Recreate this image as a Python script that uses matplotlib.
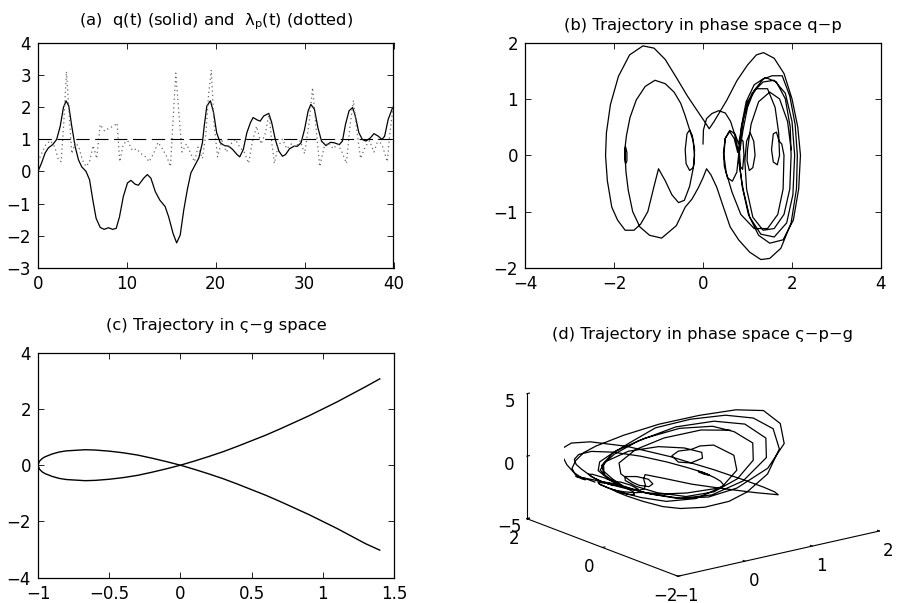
import matplotlib
matplotlib.use('Agg')
import matplotlib.pyplot as plt
import numpy as np

plt.rcParams['font.family'] = ['DejaVu Sans']
plt.rcParams['axes.unicode_minus'] = True

# ---------------- data ----------------
# (a) q(t) solid
t_q = [0, 0.4, 0.8, 1.17, 1.65, 2.1, 2.5, 2.86, 3.16, 3.46, 3.8, 4.17, 4.55, 4.92, 5.4,
       5.8, 6.17, 6.54, 7.0, 7.44, 7.93, 8.4, 8.8, 9.17, 9.6, 10.07, 10.45, 10.94, 11.3,
       11.9, 12.3, 12.7, 13.2, 13.7, 14.3, 14.7, 15.2, 15.6, 16.0, 16.4, 16.8, 17.2, 17.7,
       18.1, 18.5, 18.7, 19.0, 19.4, 19.76, 20.1, 20.5, 20.97, 21.46, 21.9, 22.4, 22.7,
       23.1, 23.5, 23.9, 24.2, 24.7, 25.0, 25.4, 25.97, 26.3, 26.7, 27.1, 27.5, 27.85,
       28.3, 28.8, 29.2, 29.6, 29.99, 30.4, 30.7, 31.1, 31.5, 31.9, 32.4, 32.9, 33.3,
       33.9, 34.25, 34.6, 35.0, 35.4, 35.7, 36.1, 36.5, 36.9, 37.4, 37.8, 38.3, 38.7,
       39.0, 39.4, 39.9, 40.0]
q_t = [0, 0.26, 0.57, 0.73, 0.83, 0.99, 1.4, 1.98, 2.19, 2.03, 1.4, 0.78, 0.36, 0.14, 0.0,
       -0.26, -0.89, -1.46, -1.74, -1.80, -1.75, -1.80, -1.77, -1.41, -0.78, -0.36, -0.28,
       -0.40, -0.43, -0.21, -0.10, -0.21, -0.63, -0.89, -1.09, -1.41, -1.93, -2.22, -1.98,
       -1.2, -0.57, -0.05, 0.21, 0.42, 0.89, 1.4, 2.03, 2.19, 1.82, 1.2, 0.89, 0.8, 0.78,
       0.68, 0.52, 0.45, 0.68, 1.2, 1.51, 1.67, 1.59, 1.56, 1.72, 1.8, 1.51, 0.99, 0.63,
       0.47, 0.52, 0.7, 0.78, 0.78, 0.89, 1.3, 1.88, 2.08, 1.93, 1.35, 0.94, 0.8, 0.9,
       0.89, 0.83, 0.94, 1.46, 1.88, 1.98, 1.72, 1.2, 0.99, 0.94, 1.04, 1.17, 1.09, 0.99,
       1.09, 1.61, 1.98, 2.0]

# (a) lambda_p(t) dotted
t_lam = [0.0, 0.4, 0.9, 1.4, 1.9, 2.3, 2.6, 2.9, 3.2, 3.5, 3.8, 4.2, 4.6, 5.0, 5.4, 5.8,
         6.2, 6.6, 7.0, 7.5, 8.0, 8.5, 8.9, 9.2, 9.6, 10.1, 10.6, 11.1, 11.6, 12.1, 12.5,
         13.0, 13.5, 14.0, 14.5, 14.9, 15.2, 15.5, 15.8, 16.2, 16.7, 17.2, 17.6, 18.0,
         18.5, 18.9, 19.2, 19.5, 19.8, 20.2, 20.7, 21.2, 21.7, 22.2, 22.7, 23.2, 23.7,
         24.1, 24.6, 25.1, 25.6, 26.0, 26.3, 26.6, 27.0, 27.5, 28.0, 28.5, 29.0, 29.5,
         30.0, 30.5, 30.9, 31.3, 31.7, 32.2, 32.7, 33.2, 33.7, 34.2, 34.7, 35.1, 35.5,
         35.9, 36.3, 36.8, 37.3, 37.8, 38.3, 38.8, 39.3, 39.6, 40.0]
lam_p = [0.3, 0.55, 0.85, 0.95, 0.75, 0.35, 0.3, 1.5, 3.1, 1.8, 0.55, 0.9, 0.75, 0.35, 0.15,
         0.3, 0.8, 0.4, 1.45, 1.25, 1.35, 1.4, 1.5, 0.3, 0.85, 0.95, 0.65, 0.7, 0.55, 0.45,
         0.3, 0.55, 0.9, 0.7, 0.45, 0.15, 1.6, 3.05, 2.0, 0.6, 0.85, 0.55, 0.3, 0.75, 0.4,
         1.2, 2.4, 3.15, 1.5, 0.45, 0.95, 0.6, 0.85, 1.0, 0.75, 0.6, 0.25, 0.9, 1.4, 0.85,
         1.2, 1.8, 0.9, 0.25, 0.75, 1.0, 0.7, 0.85, 0.75, 0.95, 0.55, 1.5, 2.6, 1.3, 0.15,
         0.75, 0.9, 0.7, 0.85, 0.6, 0.25, 1.4, 2.2, 1.2, 0.4, 0.75, 0.95, 0.6, 1.0, 0.75,
         0.3, 1.2, 2.1]
dash_level = 1.0

# (b) trajectory in phase space, (q, p) pairs
phase_qp = [
    (0.00, 0.20), (0.01, 0.45), (0.08, 0.65), (0.20, 0.74), (0.35, 0.79), (0.50, 0.75),
    (0.62, 0.60), (0.70, 0.40), (0.76, 0.20), (0.80, 0.05), (0.83, 0.10), (0.90, 0.45),
    (1.00, 0.85), (1.15, 1.15), (1.35, 1.35), (1.55, 1.41), (1.78, 1.41), (1.95, 1.05),
    (2.07, 0.55), (2.12, 0.00),
    (2.10, -0.60), (1.98, -1.20), (1.75, -1.65), (1.50, -1.83), (1.30, -1.85), (1.05, -1.72),
    (0.80, -1.50), (0.61, -1.27), (0.45, -0.90), (0.31, -0.57), (0.18, -0.35), (0.08, -0.24),
    (0.00, -0.40), (-0.10, -0.57), (-0.25, -0.78), (-0.40, -0.92),
    (-0.60, -1.25), (-0.93, -1.47), (-1.20, -1.42), (-1.42, -1.27), (-1.58, -1.00),
    (-1.68, -0.62), (-1.73, -0.30), (-1.75, -0.05),
    (-1.76, 0.10), (-1.74, 0.15), (-1.71, 0.05), (-1.71, -0.10), (-1.74, -0.15),
    (-1.76, -0.05), (-1.75, 0.15),
    (-1.72, 0.35), (-1.64, 0.67), (-1.50, 0.98), (-1.30, 1.22), (-1.08, 1.33), (-0.85, 1.27),
    (-0.65, 1.12), (-0.50, 0.92), (-0.40, 0.70), (-0.30, 0.45),
    (-0.22, 0.25), (-0.19, 0.00), (-0.22, -0.22), (-0.30, -0.27), (-0.38, -0.15),
    (-0.40, 0.10), (-0.36, 0.38), (-0.30, 0.45), (-0.24, 0.35), (-0.19, 0.10), (-0.20, -0.15),
    (-0.30, -0.55), (-0.42, -0.80), (-0.55, -0.84), (-0.70, -0.70), (-0.85, -0.45),
    (-1.00, -0.24), (-1.10, -0.55), (-1.24, -1.00), (-1.40, -1.22), (-1.55, -1.33),
    (-1.75, -1.33), (-1.92, -1.15), (-2.05, -0.92), (-2.15, -0.45), (-2.19, 0.00),
    (-2.17, 0.40), (-2.08, 0.90), (-1.90, 1.40), (-1.65, 1.78), (-1.35, 1.94), (-1.10, 1.90),
    (-0.85, 1.70), (-0.60, 1.38), (-0.35, 1.05), (-0.12, 0.78), (0.05, 0.58), (0.14, 0.47),
    (0.25, 0.60), (0.40, 0.80), (0.53, 0.97), (0.76, 1.32), (1.00, 1.60), (1.20, 1.78),
    (1.36, 1.82), (1.60, 1.72), (1.82, 1.45), (2.00, 1.00), (2.13, 0.50), (2.19, 0.00),
    (2.15, -0.60), (2.03, -1.15), (1.80, -1.50), (1.50, -1.56), (1.25, -1.42), (1.02, -1.05),
    (0.88, -0.55), (0.82, -0.15), (0.80, 0.00),
    (0.76, -0.30), (0.66, -0.46), (0.55, -0.40), (0.48, -0.20), (0.46, 0.05), (0.50, 0.30),
    (0.60, 0.44), (0.72, 0.38), (0.80, 0.20),
    (0.88, 0.55), (1.00, 0.95), (1.20, 1.18), (1.45, 1.18), (1.62, 0.85), (1.70, 0.40),
    (1.72, 0.00), (1.67, -0.17), (1.58, -0.12), (1.54, 0.10), (1.58, 0.38), (1.65, 0.41),
    (1.71, 0.25), (1.77, 0.20), (1.82, 0.00),
    (1.80, -0.60), (1.68, -1.05), (1.45, -1.30), (1.15, -1.30), (0.85, -1.05), (0.65, -0.65),
    (0.52, -0.30), (0.47, 0.00),
    (0.50, 0.30), (0.60, 0.42), (0.70, 0.30), (0.78, 0.05), (0.82, 0.20), (0.92, 0.70),
    (1.10, 1.10), (1.35, 1.30), (1.60, 1.33), (1.85, 1.10), (2.00, 0.60), (2.06, 0.00),
    (2.02, -0.70), (1.88, -1.20), (1.60, -1.45), (1.30, -1.40), (1.05, -1.10), (0.90, -0.60),
    (0.82, -0.20), (0.80, 0.00),
    (0.84, 0.30), (0.90, 0.25), (0.92, 0.00), (0.89, -0.25), (0.84, -0.20), (0.82, 0.05),
    (0.86, 0.50), (0.97, 0.95), (1.15, 1.25), (1.40, 1.38), (1.65, 1.30), (1.85, 1.00),
    (1.96, 0.50), (1.98, 0.00),
    (1.95, -0.60), (1.82, -1.05), (1.60, -1.30), (1.35, -1.33), (1.12, -1.10), (0.98, -0.60),
    (0.94, -0.10),
    (0.98, 0.25), (1.06, 0.40), (1.14, 0.25), (1.17, 0.00), (1.12, -0.22), (1.04, -0.27),
    (0.99, -0.10), (1.00, 0.10),
    (1.08, 0.55), (1.25, 0.95), (1.50, 1.12), (1.72, 1.00), (1.90, 0.60), (1.98, 0.10),
]

# (c) trajectory in varsigma-g space (two branches)
sig_c = [-1.0, -0.99, -0.97, -0.95, -0.9, -0.85, -0.8, -0.67, -0.6, -0.5, -0.4, -0.3, -0.2,
         -0.1, 0.0, 0.1, 0.2, 0.3, 0.4, 0.5, 0.6, 0.7, 0.8, 0.9, 1.0, 1.1, 1.2, 1.3, 1.4]
g_c1 = [0, 0.14, 0.24, 0.30, 0.40, 0.47, 0.51, 0.55, 0.54, 0.50, 0.44, 0.36, 0.25, 0.13, 0,
        -0.15, -0.31, -0.48, -0.67, -0.87, -1.07, -1.29, -1.52, -1.75, -2.0, -2.25, -2.52,
        -2.79, -3.02]
g_c2 = [0, -0.14, -0.24, -0.30, -0.40, -0.47, -0.51, -0.55, -0.54, -0.50, -0.44, -0.36,
        -0.25, -0.13, 0, 0.15, 0.31, 0.48, 0.67, 0.87, 1.07, 1.29, 1.52, 1.75, 2.0, 2.25,
        2.52, 2.79, 3.07]

# ---------------- figure ----------------
W, H = 904, 603
fig = plt.figure(figsize=(W / 100, H / 100), dpi=100)

TICK_FS = 12
TITLE_FS = 11.8


def box(l, r, t, b):
    return [l / W, 1 - b / H, (r - l) / W, (b - t) / H]


def style(ax):
    ax.tick_params(direction='in', top=True, right=True, length=4, width=0.6,
                   labelsize=TICK_FS)
    ax.tick_params(axis='x', pad=5)
    ax.tick_params(axis='y', pad=5)
    for s in ax.spines.values():
        s.set_linewidth(0.9)


def mlab(vals):
    return [('%g' % v).replace('-', '\u2212') for v in vals]


# (a)
ax1 = fig.add_axes(box(38, 393.5, 42.5, 268))
ax1.plot(t_q, q_t, color='k', lw=0.9)
ax1.plot(t_lam, lam_p, color='0.4', lw=0.9, ls=(0, (1, 2.5)))
ax1.axhline(dash_level, color='k', lw=0.8, ls=(0, (12, 5)))
ax1.set_xlim(0, 40)
ax1.set_ylim(-3, 4)
ax1.set_xticks([0, 10, 20, 30, 40])
ax1.set_xticklabels(mlab([0, 10, 20, 30, 40]))
ax1.set_yticks(range(-3, 5))
ax1.set_yticklabels(mlab(range(-3, 5)))
style(ax1)
ax1.set_title('(a)  q(t) (solid) and  \u03bb$_\\mathregular{p}$(t) (dotted)',
              fontsize=TITLE_FS, pad=12.5)

# (b)
q_b, p_b = np.array(phase_qp).T
ax2 = fig.add_axes(box(525, 881, 42.5, 268))
ax2.plot(q_b, p_b, color='k', lw=0.9)
ax2.set_xlim(-4, 4)
ax2.set_ylim(-2, 2)
ax2.set_xticks([-4, -2, 0, 2, 4])
ax2.set_xticklabels(mlab([-4, -2, 0, 2, 4]))
ax2.set_yticks([-2, -1, 0, 1, 2])
ax2.set_yticklabels(mlab([-2, -1, 0, 1, 2]))
style(ax2)
ax2.set_title('(b) Trajectory in phase space q\u2212p', fontsize=TITLE_FS, pad=9)

# (c)
ax3 = fig.add_axes(box(38, 394, 352.7, 577.7))
ax3.plot(sig_c, g_c1, color='k', lw=1.0)
ax3.plot(sig_c, g_c2, color='k', lw=1.0)
ax3.set_xlim(-1, 1.5)
ax3.set_ylim(-4, 4)
xt = [-1, -0.5, 0, 0.5, 1, 1.5]
ax3.set_xticks(xt)
ax3.set_xticklabels(mlab(xt))
ax3.set_yticks([-4, -2, 0, 2, 4])
ax3.set_yticklabels(mlab([-4, -2, 0, 2, 4]))
style(ax3)
ax3.set_title('(c) Trajectory in \u03c2\u2212g space', fontsize=TITLE_FS, pad=16.5)

# (d) 3-D trajectory: varsigma and g follow from q of panel (b)
sig_d = q_b ** 2 / 2 - 1
g_d = sig_d * q_b
ax4 = fig.add_axes(box(502, 897, 331, 601), projection='3d')
ax4.set_proj_type('ortho')
ax4.view_init(elev=17, azim=-127.5)
ax4.set_box_aspect((1, 0.977, 0.515), zoom=1.36)
ax4.plot(sig_d, p_b, g_d, color='k', lw=0.9)
ax4.set_xlim(-1, 2)
ax4.set_ylim(-2, 2)
ax4.set_zlim(-5, 5)
ax4.set_xticks([-1, 0, 1, 2])
ax4.set_xticklabels(mlab([-1, 0, 1, 2]))
ax4.set_yticks([-2, 0, 2])
ax4.set_yticklabels(mlab([-2, 0, 2]))
ax4.set_zticks([-5, 0, 5])
ax4.set_zticklabels(mlab([-5, 0, 5]))
ax4.grid(False)
for axis, pd in ((ax4.xaxis, -2), (ax4.yaxis, -1.5), (ax4.zaxis, -3)):
    axis.set_pane_color((1, 1, 1, 0))
    axis.pane.set_edgecolor((1, 1, 1, 0))
    axis.line.set_color('k')
    axis.line.set_linewidth(0.8)
    axis._axinfo['tick']['inward_factor'] = 0.0
    axis._axinfo['tick']['outward_factor'] = 0.15
    axis.set_tick_params(labelsize=TICK_FS, pad=pd)
ax4.set_facecolor((1, 1, 1, 0))
fig.text(703 / W, 1 - 339.3 / H, '(d) Trajectory in phase space \u03c2\u2212p\u2212g',
         ha='center', va='baseline', fontsize=TITLE_FS)

fig.savefig('out.png', dpi=100, facecolor='white')
